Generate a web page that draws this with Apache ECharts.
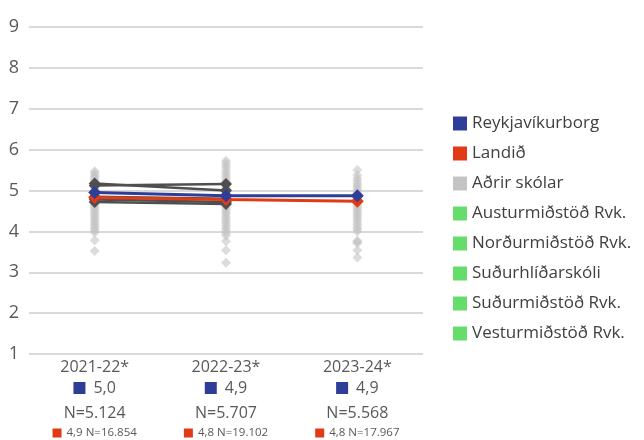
<!DOCTYPE html>
<html>
<head>
<meta charset="utf-8">
<script src="https://cdn.jsdelivr.net/npm/echarts@6/dist/echarts.min.js"></script>
<style>
html,body{margin:0;padding:0;background:#fff;}
#chart{width:644px;height:440px;}
</style>
</head>
<body>
<div id="chart"></div>
<script>
var categories = ['2021-22*', '2022-23*', '2023-24*'];
var reykjavikLabels = ['5,0', '4,9', '4,9'];
var reykjavikN = ['N=5.124', 'N=5.707', 'N=5.568'];
var landidLabels = ['4,9 N=16.854', '4,8 N=19.102', '4,8 N=17.967'];

var reykjavik = [4.95, 4.87, 4.87];
var landid = [4.83, 4.78, 4.74];

var austurmidstod = [5.17, 5.00, null];
var nordurmidstod = [5.12, 5.16, null];
var sudurhlidarskoli = [4.85, 4.80, null];
var sudurmidstod = [4.78, 4.72, null];
var vesturmidstod = [4.72, 4.67, null];

var adrirSkolar2122 = [5.47, 5.42, 5.37, 5.33, 5.28, 5.24, 5.2, 5.15, 5.1, 5.06, 5.02, 4.98, 4.93, 4.88, 4.84, 4.8, 4.76, 4.71, 4.66, 4.62, 4.57, 4.52, 4.47, 4.42, 4.37, 4.32, 4.27, 4.22, 4.17, 4.12, 4.07, 4.02, 3.97, 3.78, 3.52];
var adrirSkolar2223 = [5.73, 5.67, 5.61, 5.55, 5.48, 5.42, 5.36, 5.3, 5.24, 5.2, 5.14, 5.08, 5.03, 4.97, 4.92, 4.86, 4.81, 4.75, 4.7, 4.64, 4.58, 4.52, 4.47, 4.42, 4.36, 4.3, 4.25, 4.2, 4.14, 4.08, 4.02, 3.96, 3.9, 3.76, 3.54, 3.23];
var adrirSkolar2324 = [5.5, 5.38, 5.3, 5.24, 5.18, 5.13, 5.08, 5.03, 4.98, 4.93, 4.88, 4.83, 4.78, 4.73, 4.68, 4.63, 4.58, 4.53, 4.48, 4.43, 4.38, 4.33, 4.28, 4.22, 4.16, 4.1, 4.05, 4.0, 3.77, 3.74, 3.71, 3.54, 3.36];

var yTicks = [1, 2, 3, 4, 5, 6, 7, 8, 9];

var BLUE = '#2E3D98', RED = '#E03A16', LGRAY = '#C4C4C4', DGRAY = '#4F4F4F', GREEN = '#66DD6B';
var FONT = '"Open Sans", sans-serif';

var others = [];
[adrirSkolar2122, adrirSkolar2223, adrirSkolar2324].forEach(function (arr, i) {
  arr.forEach(function (v) { others.push([i, v]); });
});

var schools = [
  ['Austurmiðstöð Rvk.', austurmidstod],
  ['Norðurmiðstöð Rvk.', nordurmidstod],
  ['Suðurhlíðarskóli', sudurhlidarskoli],
  ['Suðurmiðstöð Rvk.', sudurmidstod],
  ['Vesturmiðstöð Rvk.', vesturmidstod]
];

var series = [{
  name: 'Aðrir skólar',
  type: 'scatter',
  data: others,
  symbol: 'diamond',
  symbolSize: 10,
  itemStyle: { color: LGRAY, opacity: 0.6 },
  z: 1
}];
schools.forEach(function (s) {
  series.push({
    name: s[0],
    type: 'line',
    data: s[1],
    symbol: 'diamond',
    symbolSize: 12,
    showSymbol: true,
    lineStyle: { color: DGRAY, width: 2.5 },
    itemStyle: { color: DGRAY },
    z: 2
  });
});
series.push({
  name: 'Landið', type: 'line', data: landid, symbol: 'diamond', symbolSize: 13,
  lineStyle: { color: RED, width: 3 }, itemStyle: { color: RED }, z: 3
});
series.push({
  name: 'Reykjavíkurborg', type: 'line', data: reykjavik, symbol: 'diamond', symbolSize: 13,
  lineStyle: { color: BLUE, width: 3 }, itemStyle: { color: BLUE }, z: 4
});

var legendData = [
  { name: 'Reykjavíkurborg', itemStyle: { color: BLUE } },
  { name: 'Landið', itemStyle: { color: RED } },
  { name: 'Aðrir skólar', itemStyle: { color: LGRAY, opacity: 1 } }
];
schools.forEach(function (s) { legendData.push({ name: s[0], itemStyle: { color: GREEN } }); });

var chart = echarts.init(document.getElementById('chart'), null, { renderer: 'canvas' });
chart.setOption({
  animation: false,
  backgroundColor: '#fff',
  textStyle: { fontFamily: FONT },
  grid: { left: 29, right: 221, top: 27, bottom: 86 },
  legend: {
    orient: 'vertical',
    left: 453,
    top: 115,
    padding: 0,
    icon: 'rect',
    itemWidth: 14,
    itemHeight: 14,
    itemGap: 13,
    selectedMode: false,
    data: legendData,
    textStyle: { fontFamily: FONT, fontSize: 17, lineHeight: 17, color: '#404040' }
  },
  xAxis: {
    type: 'category',
    data: categories,
    boundaryGap: true,
    axisLine: { show: false },
    axisTick: { show: false },
    axisLabel: {
      interval: 0,
      margin: 4,
      formatter: function (value, index) {
        return '{yr|' + value + '}\n{bsq|}{bv|' + reykjavikLabels[index] + '}\n{n|' + reykjavikN[index] + '}\n{rsq|}{rv|' + landidLabels[index] + '}';
      },
      rich: {
        yr: { fontFamily: FONT, fontSize: 16, color: '#595959', lineHeight: 19 },
        bsq: { width: 12, height: 12, backgroundColor: BLUE, lineHeight: 22 },
        bv: { fontFamily: FONT, fontSize: 16, color: '#595959', lineHeight: 22, padding: [0, 0, 0, 8] },
        n: { fontFamily: FONT, fontSize: 16, color: '#595959', lineHeight: 28 },
        rsq: { width: 9, height: 9, backgroundColor: RED, lineHeight: 12 },
        rv: { fontFamily: FONT, fontSize: 11.5, color: '#595959', lineHeight: 12, padding: [0, 0, 0, 5] }
      }
    }
  },
  yAxis: {
    type: 'value',
    min: yTicks[0],
    max: yTicks[yTicks.length - 1],
    interval: 1,
    axisLine: { show: false },
    axisTick: { show: false },
    axisLabel: { margin: 10, fontFamily: FONT, fontSize: 18, color: '#595959' },
    splitLine: { lineStyle: { color: '#D9D9D9', width: 2 } }
  },
  series: series
});
</script>
</body>
</html>
